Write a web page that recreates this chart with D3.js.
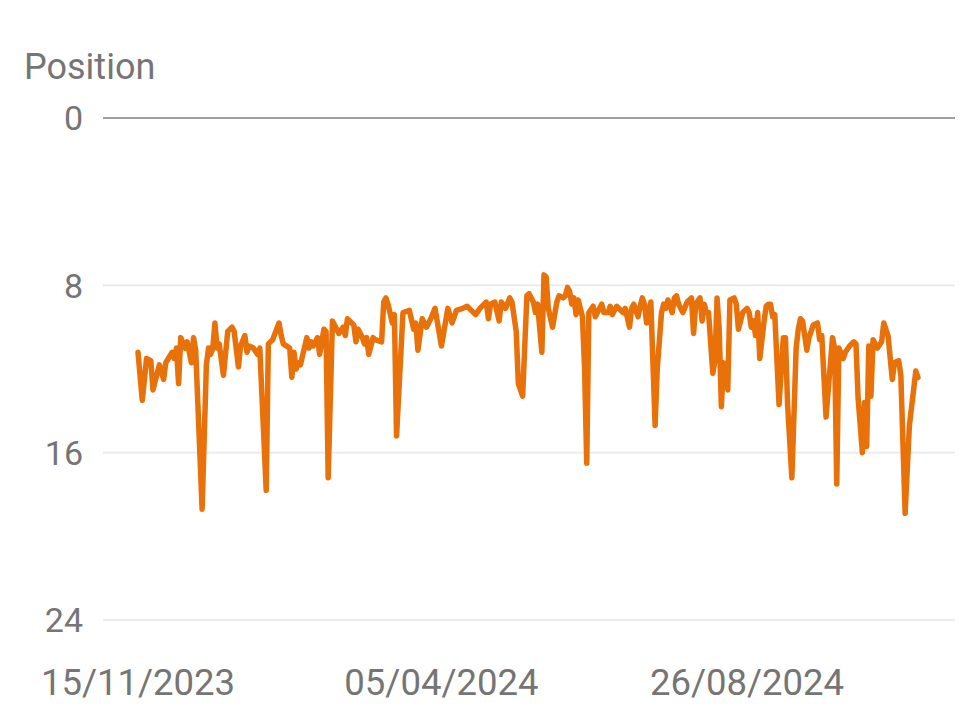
<!DOCTYPE html>
<html>
<head>
<meta charset="utf-8">
<script src="https://cdn.jsdelivr.net/npm/d3@7"></script>
<style>
  body { margin: 0; background: #fff; }
  text { font-family: Roboto, "Noto Sans", sans-serif; fill: #757575; }
</style>
</head>
<body>
<div id="chart"></div>
<script>
// Data: days after the first date, and the average position that day
const startDate = "2023-11-15";
const days = [0, 2, 4, 6, 7, 9, 10, 12, 13, 16, 17, 18, 19, 20, 22, 23, 25, 26, 27, 30,
  32, 33, 34, 35, 36, 37, 38, 40, 42, 44, 45, 47, 48, 50, 51, 52, 54, 56, 57, 60,
  61, 63, 66, 67, 68, 71, 72, 73, 74, 75, 76, 79, 80, 81, 82, 84, 85, 87, 88, 89,
  91, 94, 96, 97, 98, 101, 102, 103, 105, 106, 107, 108, 110, 111, 114, 115, 116, 117, 119, 120,
  121, 124, 127, 129, 130, 131, 133, 135, 137, 139, 142, 145, 147, 149, 152, 154, 158, 160, 163, 164,
  165, 167, 169, 170, 172, 174, 175, 177, 178, 180, 182, 183, 185, 186, 187, 189, 190, 191, 192, 194,
  196, 197, 199, 200, 201, 202, 203, 204, 205, 206, 208, 209, 210, 211, 213, 214, 215, 217, 218, 220,
  221, 222, 224, 227, 228, 230, 231, 232, 234, 235, 236, 237, 238, 240, 242, 243, 245, 246, 247, 248,
  250, 251, 252, 253, 255, 257, 259, 260, 261, 263, 264, 265, 266, 267, 269, 270, 271, 272, 273, 274,
  276, 277, 279, 280, 281, 283, 285, 286, 287, 288, 289, 290, 291, 293, 294, 295, 296, 297, 298, 300,
  302, 303, 304, 306, 308, 309, 310, 311, 313, 314, 316, 318, 319, 320, 322, 325, 326, 327, 328, 330,
  331, 333, 335, 336, 337, 339, 340, 341, 342, 343, 344, 346, 348, 349, 351, 353, 354, 356, 357, 359,
  361, 364, 365];
const positions = [11.2, 13.5, 11.5, 11.6, 13.0, 12.2, 11.8, 12.5, 11.7, 11.2, 11.5, 11.0, 12.7, 10.5, 11.0, 10.7, 11.7, 10.5, 11.1, 18.7,
  11.8, 11.0, 11.3, 11.0, 9.8, 11.0, 10.8, 12.3, 10.2, 10.0, 10.2, 11.9, 10.9, 10.4, 11.2, 10.9, 11.0, 11.3, 11.0, 17.8,
  10.8, 10.6, 9.8, 10.4, 10.8, 11.0, 12.4, 11.2, 12.0, 11.7, 11.8, 10.5, 11.0, 10.7, 10.9, 10.5, 11.3, 10.1, 10.2, 17.2,
  9.7, 10.3, 10.0, 10.4, 9.6, 9.9, 10.7, 10.1, 10.5, 10.8, 10.5, 11.3, 10.5, 10.6, 10.7, 8.8, 8.6, 8.9, 9.8, 9.4,
  15.2, 9.3, 9.2, 10.1, 9.8, 11.1, 9.6, 10.0, 9.6, 9.1, 10.9, 9.1, 9.8, 9.2, 9.1, 9.0, 9.4, 9.1, 8.8, 9.6,
  8.9, 8.8, 9.7, 8.8, 9.1, 8.6, 8.8, 10.2, 12.7, 13.3, 8.5, 8.4, 8.8, 9.3, 8.9, 11.2, 7.5, 7.6, 9.1, 10.0,
  8.8, 8.5, 8.6, 8.5, 8.1, 8.3, 8.9, 8.6, 9.4, 8.7, 9.5, 12.0, 16.5, 9.3, 9.0, 9.5, 9.3, 8.9, 9.3, 9.3,
  9.0, 9.4, 9.0, 9.3, 9.1, 10.0, 9.1, 8.9, 9.5, 9.0, 8.6, 8.9, 9.8, 8.8, 14.7, 12.0, 9.3, 8.9, 9.1, 8.7,
  9.3, 8.6, 8.5, 8.9, 9.3, 8.8, 8.6, 10.3, 8.9, 8.6, 9.7, 8.9, 9.3, 9.3, 12.2, 11.6, 8.6, 10.1, 13.8, 11.7,
  13.0, 8.7, 8.6, 8.9, 10.1, 9.3, 9.1, 9.3, 10.0, 9.7, 10.4, 9.3, 11.5, 9.7, 9.0, 8.9, 8.9, 9.5, 9.4, 13.7,
  10.5, 10.5, 13.7, 17.2, 11.0, 10.1, 9.6, 9.7, 11.1, 10.5, 9.9, 9.8, 10.6, 10.4, 14.3, 10.5, 11.0, 17.5, 11.0, 11.5,
  11.2, 10.9, 10.7, 10.8, 13.4, 16.0, 13.6, 15.7, 10.9, 13.3, 10.6, 11.0, 10.7, 9.8, 10.4, 12.5, 11.7, 11.6, 12.3, 18.9,
  14.7, 12.1, 12.4];
const yTicks = [0, 8, 16, 24];
const xTickDates = ["2023-11-15", "2024-04-05", "2024-08-26"];

const parse = d3.timeParse("%Y-%m-%d");
const start = parse(startDate);
const data = days.map((d, i) => ({ date: d3.timeDay.offset(start, d), value: positions[i] }));

const width = 977, height = 726;
const svg = d3.select("#chart").append("svg")
  .attr("width", width)
  .attr("height", height);

// scales: position axis runs downwards, 0 at the top
const x = d3.scaleTime()
  .domain([parse(xTickDates[0]), parse(xTickDates[2])])
  .range([138, 747]);
const y = d3.scaleLinear().domain([0, 24]).range([118, 620]);

// gridlines
svg.append("g")
  .selectAll("line")
  .data(yTicks)
  .join("line")
  .attr("x1", 103)
  .attr("x2", 955)
  .attr("y1", d => y(d))
  .attr("y2", d => y(d))
  .attr("stroke", d => d === 0 ? "#9e9e9e" : "#ececec")
  .attr("stroke-width", 2);

// y labels
svg.append("g")
  .selectAll("text")
  .data(yTicks)
  .join("text")
  .attr("x", 83)
  .attr("y", d => y(d))
  .attr("dy", "0.36em")
  .attr("text-anchor", "end")
  .style("font-size", "34px")
  .text(d => d);

svg.append("text")
  .attr("x", 24)
  .attr("y", 79)
  .style("font-size", "36px")
  .text("Position");

// x labels
const fmt = d3.timeFormat("%d/%m/%Y");
svg.append("g")
  .selectAll("text")
  .data(xTickDates.map(parse))
  .join("text")
  .attr("x", d => x(d))
  .attr("y", 695)
  .attr("text-anchor", "middle")
  .style("font-size", "36.5px")
  .text(d => fmt(d));

// the line
const line = d3.line()
  .x(d => x(d.date))
  .y(d => y(d.value));

svg.append("path")
  .datum(data)
  .attr("fill", "none")
  .attr("stroke", "#e8710a")
  .attr("stroke-width", 5.5)
  .attr("stroke-linejoin", "round")
  .attr("stroke-linecap", "round")
  .attr("d", line);
</script>
</body>
</html>
